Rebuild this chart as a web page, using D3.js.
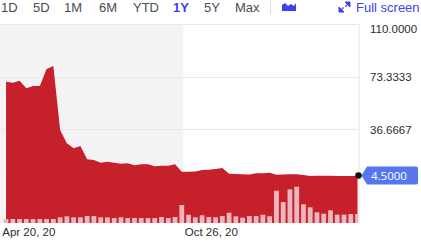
<!DOCTYPE html>
<html>
<head>
<meta charset="utf-8">
<script src="https://cdn.jsdelivr.net/npm/d3@7"></script>
<style>
  body { margin: 0; background: #fff; }
  svg { display: block; font-family: "Open Sans", sans-serif; }
  .tf { font-family: "Liberation Sans", Arial, sans-serif; font-size: 13px; fill: #464e56; }
  .axis text { font-size: 11.5px; fill: #2c2c2c; }
</style>
</head>
<body>
<div id="chart"></div>
<script>
const width = 421, height = 242;
const plot = { left: 0, right: 358.5, top: 24, bottom: 223 };

// toolbar
const periods = ["1D", "5D", "1M", "6M", "YTD", "1Y", "5Y", "Max"];
const periodX = [1, 33, 64, 99, 133, 173, 204, 235];
const activePeriod = "1Y";

// weekly closes, Apr 20 2020 .. Apr 26 2021
const prices = [
  69.8, 69.1, 70.5, 65.3, 66.9, 66.9, 78.7, 80.8, 36.2, 27.0,
  23.5, 25.1, 15.8, 15.3, 13.4, 14.1, 13.4, 12.7, 13.0, 11.6,
  12.3, 12.3, 10.9, 11.4, 11.4, 12.3, 7.2, 7.2, 7.3, 8.4,
  8.5, 9.1, 9.7, 5.8, 5.6, 5.4, 5.2, 6.1, 6.1, 6.5,
  5.1, 5.2, 5.4, 5.4, 4.9, 4.2, 4.4, 4.4, 4.4, 4.2,
  4.2, 4.2, 4.2, 4.5
];
// weekly volume (thousands)
const volumes = [
  40, 40, 40, 40, 40, 40, 40, 40, 57, 67,
  57, 57, 70, 70, 57, 57, 50, 57, 50, 50,
  50, 50, 50, 60, 50, 60, 180, 83, 57, 77,
  60, 57, 70, 103, 67, 53, 70, 70, 83, 67,
  323, 210, 337, 363, 187, 157, 107, 93, 127, 83,
  83, 90, 90, 53
];
const yTicks = [36.6667, 73.3333, 110];
const lastPrice = 4.5;

const startDate = new Date(2020, 3, 20);
const endDate = new Date(2021, 3, 26);
const dates = d3.timeWeek.range(startDate, d3.timeDay.offset(endDate, 1), 1);
const data = dates.map((d, i) => ({ date: d, price: prices[i], vol: volumes[i] }));
const xTicks = [new Date(2020, 3, 20), new Date(2020, 9, 26)];

const svg = d3.select("#chart").append("svg")
  .attr("width", width).attr("height", height);

// toolbar
periods.forEach((p, i) => {
  svg.append("text").attr("class", "tf")
    .attr("x", periodX[i]).attr("y", 12)
    .style("fill", p === activePeriod ? "#3f3ff0" : null)
    .style("font-weight", p === activePeriod ? "700" : null)
    .text(p);
});
svg.append("line").attr("x1", 270.5).attr("x2", 270.5).attr("y1", 0).attr("y2", 14)
  .attr("stroke", "#dcdcdc");
svg.append("path")
  .attr("d", "M282,11 L282,5 L285,3 L288,6 L291,4 L294,6 L296,3 L296,11 Z")
  .attr("fill", "#3f3ff0");
// expand icon
const ex = svg.append("g").attr("fill", "#3f3ff0").attr("stroke", "#3f3ff0");
ex.append("path").attr("d", "M345,2 L350,2 L350,7 Z");
ex.append("path").attr("d", "M339,7 L339,12 L344,12 Z");
ex.append("line").attr("x1", 347).attr("y1", 5).attr("x2", 345.5).attr("y2", 6.5).attr("stroke-width", 1.4);
ex.append("line").attr("x1", 342).attr("y1", 9).attr("x2", 343.5).attr("y2", 7.5).attr("stroke-width", 1.4);
svg.append("text").attr("class", "tf").attr("x", 356).attr("y", 12)
  .style("fill", "#3f3ff0").text("Full screen");

const x = d3.scaleTime().domain([startDate, endDate]).range([0.25, plot.right]);
const y = d3.scaleLinear().domain([0, 110]).range([182, plot.top]);
const yVol = d3.scaleLinear().domain([0, 400]).range([plot.bottom, plot.bottom - 40]);

// shaded region
svg.append("rect")
  .attr("x", plot.left).attr("y", plot.top)
  .attr("width", x(xTicks[1]) + 0.6).attr("height", plot.bottom - plot.top)
  .attr("fill", "#f3f3f3");

// gridlines
svg.append("g").selectAll("line").data(yTicks).join("line")
  .attr("x1", plot.left).attr("x2", plot.right)
  .attr("y1", d => Math.round(y(d)) + 0.5).attr("y2", d => Math.round(y(d)) + 0.5)
  .attr("stroke", "#e9e9e9");

svg.append("clipPath").attr("id", "clip")
  .append("rect").attr("x", plot.left).attr("y", plot.top)
  .attr("width", plot.right - plot.left).attr("height", plot.bottom - plot.top);

// price area
const area = d3.area()
  .x(d => x(d.date))
  .y0(plot.bottom)
  .y1(d => y(d.price));
svg.append("path").datum(data)
  .attr("d", area)
  .attr("fill", "#c6202b");

// volume bars
svg.append("g").attr("clip-path", "url(#clip)")
  .selectAll("rect").data(data).join("rect")
  .attr("x", d => x(d.date) - 2.4)
  .attr("width", 4.8)
  .attr("y", d => yVol(d.vol))
  .attr("height", d => plot.bottom - yVol(d.vol))
  .attr("fill", "#ebb6bd");

// right border
svg.append("line").attr("x1", plot.right + 0.5).attr("x2", plot.right + 0.5)
  .attr("y1", plot.top).attr("y2", plot.bottom)
  .attr("stroke", "#e2e2ec");

// x axis
const xAxis = svg.append("g").attr("class", "axis")
  .attr("transform", `translate(0,${plot.bottom})`)
  .call(d3.axisBottom(x).tickValues(xTicks).tickFormat(d3.timeFormat("%b %d, %y"))
    .tickSize(0).tickPadding(5));
xAxis.select(".domain").remove();
xAxis.selectAll("text").attr("text-anchor", "start").attr("x", 1.5);

// y axis
const yAxis = svg.append("g").attr("class", "axis")
  .attr("transform", "translate(370,0)")
  .call(d3.axisRight(y).tickValues(yTicks).tickFormat(d3.format(".4f"))
    .tickSize(0).tickPadding(0));
yAxis.select(".domain").remove();
yAxis.selectAll("text").attr("dy", d => d === 110 ? "0.75em" : "0.32em")
  .attr("y", d => d === 110 ? 0 : 0.6);

// last price marker + tag
const ly = y(lastPrice);
svg.append("path")
  .attr("d", `M361.5,${ly} L367,${ly - 9} L416,${ly - 9} Q418,${ly - 9} 418,${ly - 7} L418,${ly + 7} Q418,${ly + 9} 416,${ly + 9} L367,${ly + 9} Z`)
  .attr("fill", "#5676ee");
svg.append("circle").attr("cx", plot.right).attr("cy", ly).attr("r", 3.3).attr("fill", "#111");
svg.append("text").attr("x", 371).attr("y", ly).attr("dy", "0.35em")
  .style("font-size", "11.5px").style("fill", "#fff")
  .text(d3.format(".4f")(lastPrice));
</script>
</body>
</html>
